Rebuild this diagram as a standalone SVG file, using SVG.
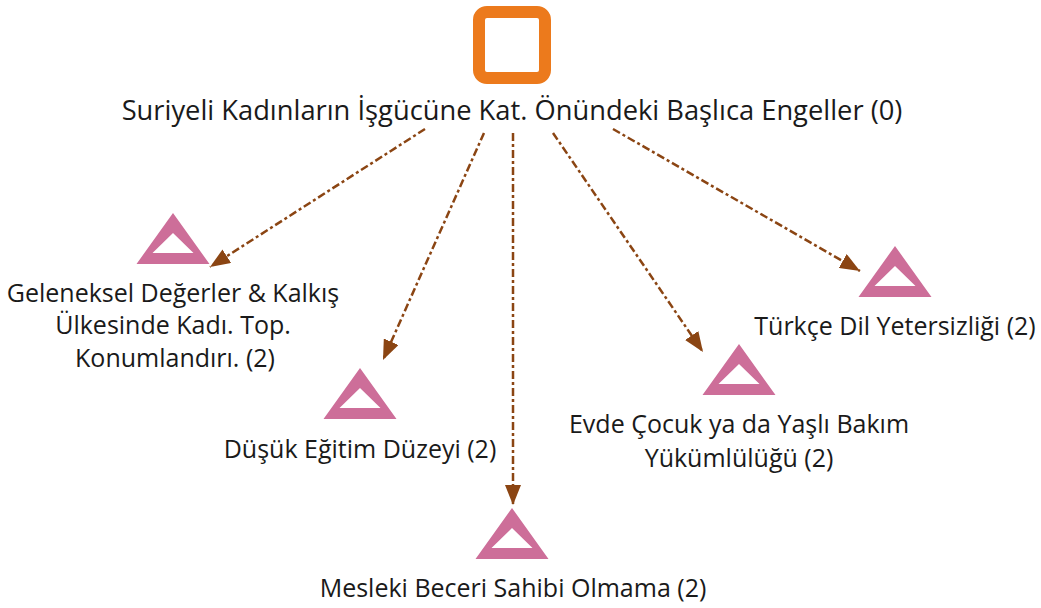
<svg xmlns="http://www.w3.org/2000/svg" width="1041" height="608" viewBox="0 0 1041 608">
<defs>
<style>
text{font-family:"Open Sans","Noto Sans","DejaVu Sans",sans-serif;font-size:25px;fill:#1a1a1a;text-anchor:middle}
.title{font-size:27.3px}
.tri{fill:#CD6E99;fill-rule:evenodd}
.edge{stroke:#8B4513;stroke-width:2.5;fill:none;stroke-dasharray:8,3,3,3;marker-end:url(#ah)}
</style>
<marker id="ah" viewBox="0 0 20 16" refX="20" refY="8" markerWidth="20" markerHeight="16" markerUnits="userSpaceOnUse" orient="auto">
<path d="M0,0 L20,8 L0,16 z" fill="#8B4513"/>
</marker>
</defs>
<rect width="1041" height="608" fill="#fff"/>
<g id="edges">
<line class="edge" x1="425" y1="129" x2="210" y2="267"/>
<line class="edge" x1="484" y1="133" x2="383" y2="360"/>
<line class="edge" x1="513" y1="133" x2="513" y2="505"/>
<line class="edge" x1="553" y1="133" x2="703" y2="352"/>
<line class="edge" x1="613" y1="129" x2="860" y2="271"/>
</g>
<g id="root">
<rect x="479" y="12" width="66" height="66" rx="8" fill="none" stroke="#EC7A1C" stroke-width="12"/>
<text class="title" x="512" y="120">Suriyeli Kadınların İşgücüne Kat. Önündeki Başlıca Engeller (0)</text>
</g>
<g id="n1">
<path class="tri" d="M173,213 L209.5,264 L136.5,264 Z M173,233 L193.5,253 L152.5,253 Z"/>
<text x="173" y="302">Geleneksel Değerler &amp; Kalkış</text>
<text x="173" y="334">Ülkesinde Kadı. Top.</text>
<text x="175" y="367">Konumlandırı. (2)</text>
</g>
<g id="n2">
<path class="tri" d="M360,368 L396.5,419 L323.5,419 Z M360,388 L380.5,408 L339.5,408 Z"/>
<text x="360" y="458">Düşük Eğitim Düzeyi (2)</text>
</g>
<g id="n3">
<path class="tri" d="M512,508 L548.5,559 L475.5,559 Z M512,528 L532.5,548 L491.5,548 Z"/>
<text x="513" y="597">Mesleki Beceri Sahibi Olmama (2)</text>
</g>
<g id="n4">
<path class="tri" d="M739,344 L775.5,395 L702.5,395 Z M739,364 L759.5,384 L718.5,384 Z"/>
<text x="739" y="433">Evde Çocuk ya da Yaşlı Bakım</text>
<text x="739" y="467">Yükümlülüğü (2)</text>
</g>
<g id="n5">
<path class="tri" d="M895,246 L931.5,297 L858.5,297 Z M895,266 L915.5,286 L874.5,286 Z"/>
<text x="895" y="335">Türkçe Dil Yetersizliği (2)</text>
</g>
</svg>
